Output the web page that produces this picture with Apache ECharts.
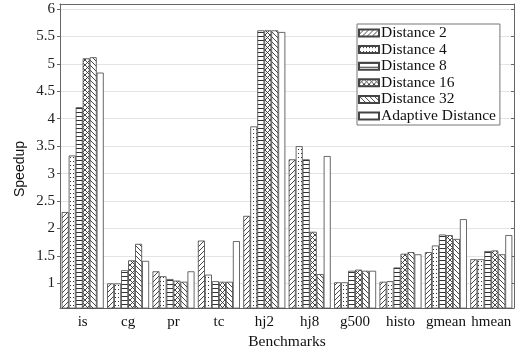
<!DOCTYPE html>
<html>
<head>
<meta charset="utf-8">
<script src="https://cdn.jsdelivr.net/npm/echarts@6/dist/echarts.min.js"></script>
<style>
html,body{margin:0;padding:0;background:#fff;}
#chart{width:520px;height:355px;}
</style>
</head>
<body>
<div id="chart"></div>
<script>
const categories = ['is','cg','pr','tc','hj2','hj8','g500','histo','gmean','hmean'];
const seriesNames = ['Distance 2','Distance 4','Distance 8','Distance 16','Distance 32','Adaptive Distance'];
const dist2    = [2.30, 1.00, 1.22, 1.78, 2.23, 3.26, 1.02, 1.03, 1.57, 1.44];
const dist4    = [3.33, 1.00, 1.13, 1.16, 3.86, 3.50, 1.02, 1.04, 1.69, 1.44];
const dist8    = [4.21, 1.24, 1.08, 1.04, 5.61, 3.26, 1.23, 1.29, 1.89, 1.59];
const dist16   = [5.10, 1.42, 1.05, 1.03, 5.61, 1.94, 1.25, 1.54, 1.88, 1.60];
const dist32   = [5.12, 1.72, 1.03, 1.03, 5.61, 1.17, 1.23, 1.57, 1.81, 1.53];
const adaptive = [4.84, 1.41, 1.22, 1.77, 5.58, 3.32, 1.23, 1.53, 2.17, 1.88];
const yMin = 0.55, yMax = 6.09, yStep = 0.5;

function pat(w, h, draw) {
  const c = document.createElement('canvas');
  c.width = w; c.height = h;
  const g = c.getContext('2d');
  g.fillStyle = '#fff'; g.fillRect(0, 0, w, h);
  g.strokeStyle = '#333'; g.fillStyle = '#333';
  draw(g, w, h);
  return { image: c, repeat: 'repeat' };
}
function fwd(g, w, h) {
  g.lineWidth = 0.9;
  g.beginPath();
  g.moveTo(-1, h + 1); g.lineTo(w + 1, -1);
  g.moveTo(-1, 1); g.lineTo(1, -1);
  g.moveTo(w - 1, h + 1); g.lineTo(w + 1, h - 1);
  g.stroke();
}
function back(g, w, h) {
  g.lineWidth = 0.9;
  g.beginPath();
  g.moveTo(-1, -1); g.lineTo(w + 1, h + 1);
  g.moveTo(w - 1, -1); g.lineTo(w + 1, 1);
  g.moveTo(-1, h - 1); g.lineTo(1, h + 1);
  g.stroke();
}
const fills = [
  pat(5, 5, fwd),
  pat(3, 4, function (g) { g.fillRect(1, 1, 1, 1); }),
  pat(3, 4, function (g) { g.fillRect(0, 0, 3, 1); }),
  pat(5, 5, function (g, w, h) { fwd(g, w, h); back(g, w, h); }),
  pat(5, 5, back),
  '#ffffff'
];
const values = [dist2, dist4, dist8, dist16, dist32, adaptive];

const serif = 'Liberation Serif';
const chart = echarts.init(document.getElementById('chart'), null, { renderer: 'canvas' });

const series = seriesNames.map(function (name, i) {
  return {
    name: name,
    type: 'bar',
    data: values[i],
    barWidth: 7,
    barGap: '0%',
    itemStyle: { color: fills[i], borderColor: '#444', borderWidth: 0.8 },
    emphasis: { disabled: true },
    animation: false
  };
});

function fmt(v) {
  const r = v / yStep;
  if (Math.abs(r - Math.round(r)) > 1e-6) return '';
  return String(Math.round(v * 10) / 10);
}

chart.setOption({
  animation: false,
  backgroundColor: '#fff',
  grid: { left: 60, right: 6, top: 4, bottom: 41, containLabel: false },
  legend: {
    orient: 'vertical',
    left: 357, top: 24,
    icon: 'rect',
    itemWidth: 20, itemHeight: 7,
    itemGap: 0.6,
    padding: [1, 4, 1, 1],
    backgroundColor: '#fff',
    borderColor: '#777', borderWidth: 1,
    textStyle: { fontFamily: serif, fontSize: 15.5, color: '#111', padding: [0, 0, 0, -3] },
    data: seriesNames
  },
  xAxis: [{
    type: 'category',
    data: categories,
    position: 'bottom',
    axisLine: { lineStyle: { color: '#666', width: 1 } },
    axisTick: { alignWithLabel: true, interval: 0, inside: false, length: 3, lineStyle: { color: '#666' } },
    axisLabel: { interval: 0, fontFamily: serif, fontSize: 15, color: '#111', margin: 6 },
    name: 'Benchmarks',
    nameLocation: 'middle',
    nameGap: 22,
    nameTextStyle: { fontFamily: serif, fontSize: 15.5, color: '#111' }
  }, {
    type: 'category',
    data: categories,
    position: 'top',
    axisLine: { lineStyle: { color: '#666', width: 1 } },
    axisTick: { alignWithLabel: true, interval: 0, inside: false, length: 3, lineStyle: { color: '#666' } },
    axisLabel: { show: false }
  }],
  yAxis: [{
    type: 'value',
    min: yMin, max: yMax,
    splitNumber: 11,
    minInterval: yStep, maxInterval: yStep,
    position: 'left',
    axisLine: { show: true, lineStyle: { color: '#666', width: 1 } },
    axisTick: { show: true, inside: false, length: 3, lineStyle: { color: '#666' } },
    axisLabel: { fontFamily: serif, fontSize: 15, color: '#222', margin: 5, formatter: fmt, showMinLabel: false, showMaxLabel: false },
    splitLine: { show: true, lineStyle: { color: '#e4e4e4', width: 1 } }
  }, {
    type: 'value',
    min: yMin, max: yMax,
    splitNumber: 11,
    minInterval: yStep, maxInterval: yStep,
    position: 'right',
    axisLine: { show: true, lineStyle: { color: '#666', width: 1 } },
    axisTick: { show: true, inside: true, length: 3, lineStyle: { color: '#666' } },
    axisLabel: { show: false },
    splitLine: { show: false }
  }],
  graphic: [{
    type: 'text',
    x: 20, y: 169,
    rotation: Math.PI / 2,
    style: { text: 'Speedup', fontFamily: 'Liberation Sans', fontSize: 14, fill: '#111', align: 'center', verticalAlign: 'middle' }
  }],
  series: series
});
</script>
</body>
</html>
